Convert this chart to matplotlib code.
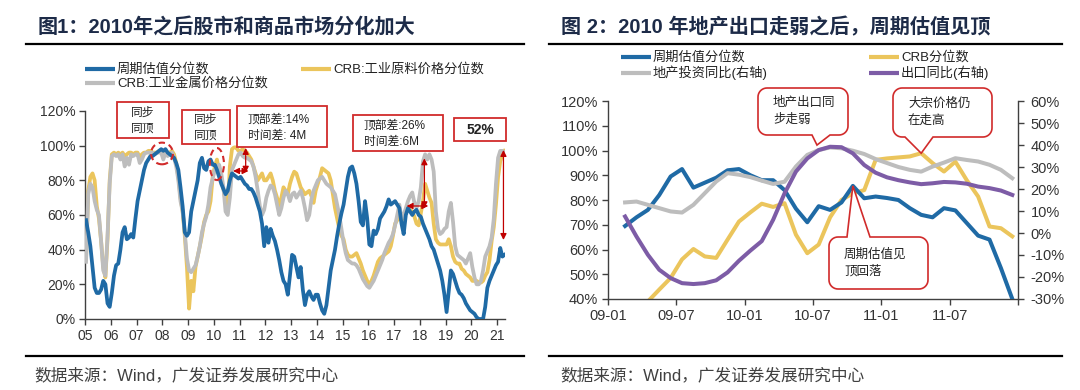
import matplotlib
matplotlib.use('Agg')
import matplotlib.pyplot as plt
from matplotlib.patches import Ellipse, Polygon, Rectangle
from matplotlib.lines import Line2D
from matplotlib.transforms import Affine2D
import numpy as np

plt.rcParams['font.family'] = ['Liberation Sans', 'Noto Sans CJK SC', 'DejaVu Sans']

# ---------------- left chart: monthly percentiles, 2005-01 .. 2021-04 ----------------
start_year = 2005
cycle_pct = [
    57, 50, 42, 30, 18, 15, 15, 17, 22, 20, 9, 7,        # 2005
    15, 25, 31, 32, 40, 50, 53, 46, 47, 49, 47, 58,      # 2006
    68, 74, 80, 86, 90, 92, 94, 94, 95, 96, 97, 98,      # 2007
    97, 98, 96, 95, 94, 93, 90, 86, 76, 65, 50, 48,      # 2008
    50, 62, 68, 74, 80, 90, 93, 87, 86, 91, 92, 89,      # 2009
    89, 86, 82, 78, 75, 72, 74, 80, 84, 83, 82, 81,      # 2010
    82, 80, 78, 77, 75, 75, 73, 70, 66, 62, 55, 42,      # 2011
    53, 44, 52, 48, 45, 40, 34, 27, 22, 20, 14, 25,      # 2012
    37, 36, 30, 24, 30, 17, 8, 14, 16, 13, 11, 14,       # 2013
    14, 9, 5, 3, 8, 18, 28, 34, 40, 48, 55, 61,          # 2014
    66, 74, 82, 87, 88, 84, 78, 68, 56, 54, 68, 58,      # 2015
    43, 42, 51, 49, 52, 58, 60, 62, 65, 69, 66, 67,      # 2016
    68, 66, 64, 55, 49, 60, 64, 62, 60, 62, 63, 60,      # 2017
    59, 55, 52, 49, 46, 42, 40, 36, 32, 28, 22, 14,      # 2018
    4, 16, 28, 26, 22, 18, 15, 14, 12, 9, 7, 5,          # 2019
    4, 3, 1, 0, 0, 0, 7, 18, 22, 25, 28, 31,             # 2020
    33, 41, 36, 37,                                      # 2021
]
crb_raw_pct = [
    35, 74, 82, 84, 80, 65, 58, 45, 30, 24, 46, 80,
    95, 96, 95, 96, 95, 96, 94, 95, 96, 96, 95, 96,
    96, 93, 95, 96, 96, 97, 97, 96, 96, 96, 97, 97,
    95, 97, 96, 96, 97, 95, 90, 82, 70, 62, 48, 30,
    6, 22, 16, 30, 36, 42, 48, 56, 60, 62, 68, 82,
    88, 92, 85, 80, 75, 68, 62, 88, 98, 99, 99, 97,
    97, 98, 97, 96, 94, 92, 88, 84, 80, 82, 84, 80,
    80, 82, 84, 80, 74, 70, 65, 70, 76, 74, 72, 78,
    82, 85, 84, 80, 76, 74, 72, 73, 74, 71, 67, 74,
    78, 82, 87, 86, 85, 84, 80, 72, 64, 58, 52, 48,
    46, 40, 37, 36, 36, 37, 38, 35, 32, 28, 25, 22,
    20, 22, 25, 29, 33, 35, 36, 37, 38, 39, 42, 48,
    55, 57, 59, 57, 59, 61, 64, 63, 62, 59, 55, 54,
    61, 68, 78, 74, 70, 67, 55, 46, 44, 43, 43, 43,
    43, 46, 42, 36, 33, 32, 32, 29, 28, 26, 25, 24,
    22, 22, 22, 21, 21, 22, 25, 27, 34, 45, 53, 66,
    82, 91, 95, 97,
]
crb_metal_pct = [
    33, 72, 78, 76, 68, 63, 60, 45, 28, 25, 48, 78,
    94, 95, 94, 95, 92, 95, 88, 93, 89, 95, 94, 95,
    95, 90, 92, 95, 96, 96, 96, 96, 95, 96, 96, 96,
    92, 96, 94, 95, 96, 93, 88, 80, 68, 62, 50, 35,
    28, 27, 29, 31, 36, 42, 50, 55, 59, 66, 76, 81,
    86, 88, 89, 84, 76, 62, 60, 70, 86, 89, 92, 95,
    96, 94, 93, 93, 92, 91, 88, 82, 74, 65, 60, 63,
    70, 74, 77, 76, 72, 66, 60, 64, 70, 74, 72, 68,
    72, 73, 70, 72, 74, 70, 64, 57, 60, 69, 74, 77,
    80, 81, 82, 80, 78, 77, 76, 74, 72, 66, 60, 52,
    44, 38, 34, 33, 32, 32, 31, 29, 26, 23, 21, 19,
    18, 20, 22, 25, 28, 31, 34, 38, 41, 44, 46, 49,
    54, 60, 66, 58, 60, 64, 68, 71, 73, 67, 64, 68,
    76, 91, 95, 92, 95, 92, 85, 62, 52, 49, 50, 52,
    53, 62, 67, 56, 42, 37, 36, 35, 34, 32, 35, 38,
    30, 24, 20, 20, 22, 28, 36, 39, 42, 47, 58, 78,
    93, 97, 97, 96,
]
year_labels = ['05', '06', '07', '08', '09', '10', '11', '12', '13',
               '14', '15', '16', '17', '18', '19', '20', '21']

# ---------------- right chart: 2009-2011 monthly ----------------
month_labels = ['09-01', '09-07', '10-01', '10-07', '11-01', '11-07']
cycle2 = [69.5, 73, 76, 82, 89.5, 92.5, 85, 87, 89, 92, 92.5, 90, 88, 88, 84, 76.5, 71,
          77.5, 76, 79, 85.7, 80.7, 81.4, 80.8, 80, 76.7, 74, 73, 76.7, 75.8, 70.7, 65.6,
          64, 52.5, 40]
crb2 = [30, 34, 39, 43.8, 48.5, 56, 60.2, 57.2, 56.6, 64, 71.3, 75, 78.5, 77.2, 78.7, 66,
        58.5, 62, 73, 80, 82.7, 84, 96.2, 96.8, 97.2, 97.6, 98.9, 94.9, 91.5, 95.5, 88,
        81.4, 69.3, 68.6, 65.3]
property_inv = [13.9, 14.3, 12.8, 11.3, 9.8, 9.3, 12.8, 18.1, 23.4, 27.2, 26.5, 25.4, 23.8,
                22.3, 23.3, 30.2, 35.5, 37.7, 38.9, 38.5, 37.4, 35.9, 33.6, 31.8, 30, 28.7,
                27.9, 30.2, 32, 34, 33.2, 32.5, 31, 28.7, 24.9]
exports = [7.5, -1.6, -9.9, -16.7, -20.5, -22.8, -23.2, -22.8, -21.5, -17.9, -12.6, -8,
           -3.7, 6, 18, 27.9, 33.9, 37.7, 39.2, 39, 36.2, 30.9, 27.4, 25.3, 24, 23, 22.2,
           22.6, 23.2, 23, 22.4, 21.1, 20.4, 19.3, 17.3]

BLUE = '#1f6aa5'
YELLOW = '#ebc55c'
GRAY = '#bdbdbd'
PURPLE = '#7d5ca6'
RED = '#d12b2b'
DARKRED = '#c00000'
TXT = '#333333'

W, H = 1080, 390
fig = plt.figure(figsize=(W / 100, H / 100), dpi=100)
fig.patch.set_facecolor('white')
pix = Affine2D().scale(1 / W, -1 / H).translate(0, 1) + fig.transFigure


def style_axes(ax):
    ax.spines['top'].set_visible(False)
    for s in ['left', 'bottom', 'right']:
        ax.spines[s].set_color('#404040')
        ax.spines[s].set_linewidth(1.0)
    ax.tick_params(direction='out', length=4, width=1, color='#404040',
                   labelsize=10, labelcolor=TXT, pad=3)
    ax.set_facecolor('none')


def legend_item(x0, y0, color, label):
    fig.add_artist(Line2D([x0, x0 + 30], [y0, y0], transform=pix, color=color, lw=3.0,
                          solid_capstyle='butt'))
    fig.text(x0 + 32, y0, label, transform=pix, fontsize=9.5, va='center', ha='left',
             color='#222222')


def px_of(ax, x, y):
    dx, dy = ax.transData.transform((x, y))
    return dx, H - dy


# ---------------- titles, rules, sources ----------------
title_color = '#1d2b48'
fig.text(38, 27, '图1：2010年之后股市和商品市场分化加大', transform=pix, fontsize=14.5,
         fontweight='bold', color=title_color, va='center', ha='left')
fig.text(561, 27, '图 2：2010 年地产出口走弱之后，周期估值见顶', transform=pix, fontsize=14.5,
         fontweight='bold', color=title_color, va='center', ha='left')
for x0, x1 in [(26, 524), (549, 1062)]:
    fig.add_artist(Line2D([x0, x1], [44, 44], transform=pix, color='black', lw=1.6))
    fig.add_artist(Line2D([x0, x1], [356, 356], transform=pix, color='black', lw=1.6))
fig.text(34, 375, '数据来源：Wind，广发证券发展研究中心', transform=pix, fontsize=12,
         color='#404040', va='center', ha='left')
fig.text(560, 375, '数据来源：Wind，广发证券发展研究中心', transform=pix, fontsize=12,
         color='#404040', va='center', ha='left')

# ---------------- left chart ----------------
ax1 = fig.add_axes([85 / W, 1 - 319 / H, 420 / W, 208 / H])
style_axes(ax1)
ax1.spines['right'].set_visible(False)
n = len(cycle_pct)
t = start_year + (np.arange(n) + 0.5) / 12
ax1.plot(t, crb_raw_pct, color=YELLOW, lw=2.7, zorder=2)
ax1.plot(t, crb_metal_pct, color=GRAY, lw=2.7, zorder=3)
ax1.plot(t, cycle_pct, color=BLUE, lw=2.7, zorder=4)
ax1.set_xlim(2005, 2021.31)
ax1.set_ylim(0, 120)
ax1.set_xticks(np.arange(start_year, start_year + len(year_labels)))
ax1.set_xticklabels(year_labels)
ax1.set_yticks(range(0, 121, 20))
ax1.set_yticklabels([f'{v}%' for v in range(0, 121, 20)])

legend_item(85, 69, BLUE, '周期估值分位数')
legend_item(85, 83, GRAY, 'CRB:工业金属价格分位数')
legend_item(301, 69, YELLOW, 'CRB:工业原料价格分位数')

# dashed circles
ax1.add_patch(Ellipse((2007.99, 95.5), 0.85, 12.5, fill=False, ec=RED, lw=1.5, ls=(0, (3, 2)),
                      zorder=6))
ax1.add_patch(Ellipse((2010.12, 89.4), 0.55, 18.5, fill=False, ec=RED, lw=1.5, ls=(0, (3, 2)),
                      zorder=6))

# double arrows
arrow_kw = dict(arrowstyle='<|-|>', color=DARKRED, lw=0.9, mutation_scale=9, shrinkA=0, shrinkB=0)
for (xa, ya), (xb, yb) in [((2011.24, 84.4), (2011.24, 98.7)),
                           ((2010.75, 85.4), (2011.35, 85.4)),
                           ((2018.18, 63.9), (2018.18, 92.7)),
                           ((2017.49, 65.2), (2018.33, 65.2)),
                           ((2021.25, 45.6), (2021.25, 97.5))]:
    ax1.annotate('', xy=(xb, yb), xytext=(xa, ya), arrowprops=arrow_kw, zorder=7,
                 annotation_clip=False)

# red boxes
boxes = [(117, 102, 169, 138, '同步\n同顶', 'center'),
         (182, 110, 230, 144, '同步\n同顶', 'center'),
         (237, 106, 327, 147, '顶部差:14%\n时间差: 4M', 'left'),
         (353, 115, 443, 151, '顶部差:26%\n时间差:6M', 'left'),
         (454, 118, 506, 141, '52%', 'center')]
for x0, y0, x1, y1, txt, al in boxes:
    fig.add_artist(Rectangle((x0, y0), x1 - x0, y1 - y0, transform=pix, fc='white', ec=RED,
                             lw=1.3, zorder=8))
    tx = (x0 + x1) / 2 if al == 'center' else x0 + 11
    fw = 'bold' if txt == '52%' else 'normal'
    fs = 10 if txt == '52%' else 8.5
    fig.text(tx, (y0 + y1) / 2 + 1, txt, transform=pix, fontsize=fs, fontweight=fw,
             ha=al, va='center', color='#222222', linespacing=1.45, zorder=9)

# ---------------- right chart ----------------
ax2 = fig.add_axes([608 / W, 1 - 299 / H, 410 / W, 198 / H])
style_axes(ax2)
ax2.spines['right'].set_visible(False)
ax3 = ax2.twinx()
style_axes(ax3)
ax3.spines['left'].set_visible(False)
ax3.spines['bottom'].set_visible(False)

x2 = np.arange(len(cycle2)) + 1.5
ax2.plot(x2, crb2, color=YELLOW, lw=2.9, zorder=2)
ax2.plot(x2, cycle2, color=BLUE, lw=2.9, zorder=3)
ax3.plot(x2, property_inv, color=GRAY, lw=2.9, zorder=2)
ax3.plot(x2, exports, color=PURPLE, lw=2.9, zorder=3)

ax2.set_xlim(0, 36)
ax2.set_ylim(40, 120)
ax3.set_ylim(-30, 60)
ax2.set_xticks(range(0, 37, 6))
ax2.set_xticklabels(month_labels + [''])
ax2.set_yticks(range(40, 121, 10))
ax2.set_yticklabels([f'{v}%' for v in range(40, 121, 10)])
ax3.set_yticks(range(-30, 61, 10))
ax3.set_yticklabels([f'{v}%' for v in range(-30, 61, 10)])
ax2.tick_params(labelsize=10.5)
ax3.tick_params(axis='y', pad=5, labelsize=10.5)

legend_item(621, 57, BLUE, '周期估值分位数')
legend_item(869, 57, YELLOW, 'CRB分位数')
legend_item(621, 73, GRAY, '地产投资同比(右轴)')
legend_item(869, 73, PURPLE, '出口同比(右轴)')


def callout(x0, y0, x1, y1, b0, b1, tip, text, r=9):
    pts = []

    def arc(cx, cy, a0, a1):
        for a in np.radians(np.linspace(a0, a1, 10)):
            pts.append((cx + r * np.cos(a), cy + r * np.sin(a)))

    below = tip[1] > y1
    arc(x0 + r, y0 + r, 180, 270)
    if not below:
        pts.extend([(b0, y0), tip, (b1, y0)])
    arc(x1 - r, y0 + r, 270, 360)
    arc(x1 - r, y1 - r, 0, 90)
    if below:
        pts.extend([(b1, y1), tip, (b0, y1)])
    arc(x0 + r, y1 - r, 90, 180)
    fig.add_artist(Polygon(pts, closed=True, transform=pix, fc='white', ec=RED, lw=1.2,
                           zorder=8))
    fig.text(x0 + 15, (y0 + y1) / 2, text, transform=pix, fontsize=9, ha='left',
             va='center', color='#222222', linespacing=1.55, zorder=9)


fig.canvas.draw()
callout(758, 88, 848, 135, 812, 830, px_of(ax2, 18.35, 102.2), '地产出口同\n步走弱')
callout(893, 88, 992, 137, 905, 933, px_of(ax2, x2[26], crb2[26]), '大宗价格仍\n在走高')
callout(829, 237, 928, 289, 847, 870, px_of(ax2, x2[20], cycle2[20]), '周期估值见\n顶回落')

fig.savefig('out.png', dpi=100)
